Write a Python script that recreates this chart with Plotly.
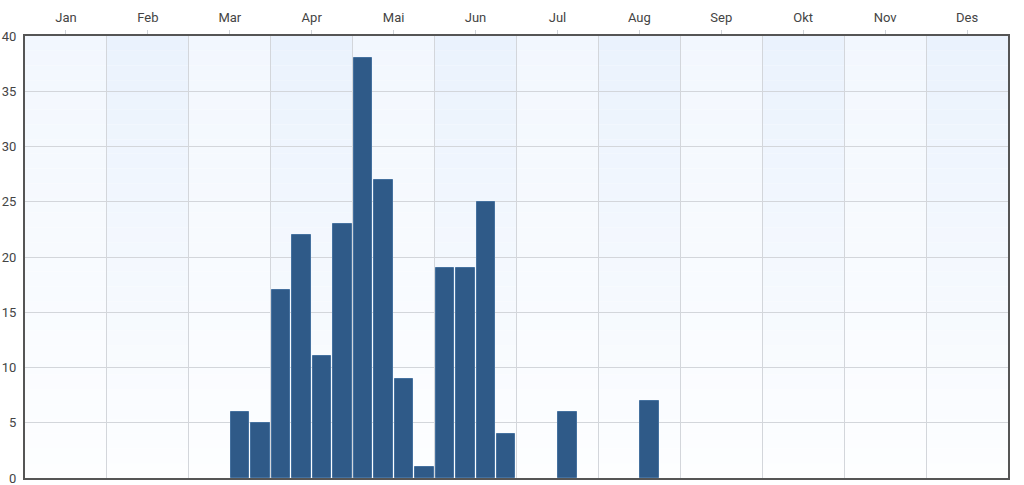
import plotly.graph_objects as go

months = ["Jan", "Feb", "Mar", "Apr", "Mai", "Jun", "Jul", "Aug", "Sep", "Okt", "Nov", "Des"]
# each bar: month index, quarter-of-month index, count
bar_month = [2, 2, 3, 3, 3, 3, 4, 4, 4, 4, 5, 5, 5, 5, 6, 7]
bar_quarter = [2, 3, 0, 1, 2, 3, 0, 1, 2, 3, 0, 1, 2, 3, 2, 2]
counts = [6, 5, 17, 22, 11, 23, 38, 27, 9, 1, 19, 19, 25, 4, 6, 7]

x_vals = [m + (q + 0.5) / 4 for m, q in zip(bar_month, bar_quarter)]

fig = go.Figure()
fig.add_trace(go.Bar(
    x=x_vals, y=counts, width=0.225,
    marker=dict(color="#2f5a88", line=dict(color="#45719f", width=1)),
    hoverinfo="x+y",
))

# background gradient bands (month columns, alternating tint)
def lerp(c1, c2, t):
    return "rgb(%d,%d,%d)" % tuple(round(a + (b - a) * t) for a, b in zip(c1, c2))

top_a = (242, 247, 254)
top_b = (234, 242, 253)
bottom = (253, 254, 255)
n_strips = 30
shapes = []
for i in range(len(months)):
    top = top_b if i % 2 == 1 else top_a
    for s in range(n_strips):
        y0 = 40 * s / n_strips
        y1 = 40 * (s + 1) / n_strips
        t = (s + 0.5) / n_strips
        col = lerp(bottom, top, t)
        shapes.append(dict(type="rect", xref="x", yref="y", x0=i, x1=i + 1, y0=y0, y1=y1,
                           fillcolor=col, line=dict(width=0), layer="below"))

fig.update_layout(
    width=1024, height=485,
    margin=dict(l=25, r=16, t=36, b=7),
    paper_bgcolor="white",
    plot_bgcolor="white",
    shapes=shapes,
    showlegend=False,
    bargap=0,
    font=dict(family="Roboto, sans-serif", size=13, color="#444"),
    xaxis=dict(
        side="top", range=[0, 12],
        tickvals=[i + 0.5 for i in range(12)], ticktext=months,
        ticks="outside", ticklen=4, tickcolor="#cfd3d8", tickwidth=1,
        ticklabelstandoff=3, ticklabeloverflow="allow",
        showgrid=False, zeroline=False, automargin=False,
        minor=dict(tickvals=list(range(1, 12)), showgrid=True, gridcolor="#d3d6db", gridwidth=1, ticks=""),
        showline=True, linecolor="#555", linewidth=2, mirror=True,
        tickfont=dict(size=13, color="#444"),
        fixedrange=True,
    ),
    yaxis=dict(
        range=[0, 40], dtick=5,
        showgrid=True, gridcolor="#d3d6db", gridwidth=1, zeroline=False,
        showline=True, linecolor="#555", linewidth=2, mirror=True,
        ticks="", ticklabelstandoff=4, automargin=False, ticklabeloverflow="allow",
        tickfont=dict(size=13, color="#444"),
        fixedrange=True,
    ),
)

fig.write_html("out.html")
